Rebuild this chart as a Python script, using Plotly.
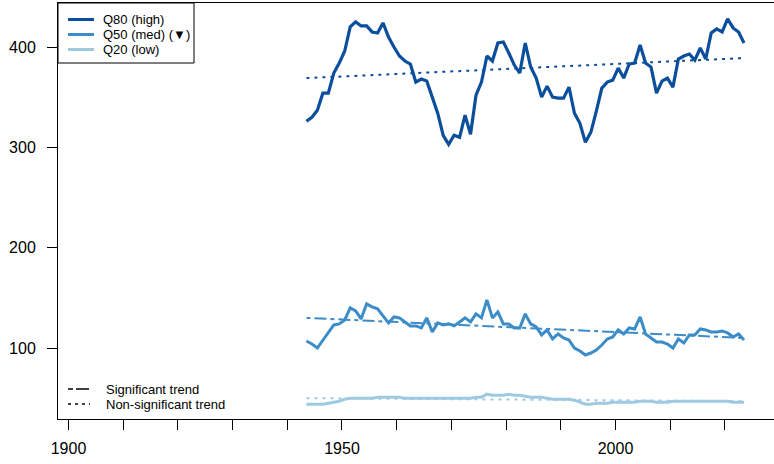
import plotly.graph_objects as go

# ---------------- data ----------------
years = list(range(1943, 2024))  # hydrological years, plotted at mid-year

q80 = [326, 330, 337, 354, 354, 374, 384, 396, 420, 425,
       421, 421, 415, 414, 424, 410, 400, 391, 386, 383,
       365, 368, 366, 349, 334, 312, 303, 312, 310, 332,
       313, 352, 365, 391, 386, 404, 405, 394, 382, 374,
       404, 380, 369, 350, 361, 350, 349, 349, 360, 334,
       324, 305, 315, 336, 359, 365, 367, 379, 369, 383,
       384, 402, 384, 380, 354, 366, 369, 360, 388, 391,
       393, 387, 399, 388, 414, 418, 415, 428, 419, 415,
       404]

q50 = [107, 104, 100, 108, 116, 123, 124, 128, 140, 137,
       129, 144, 141, 139, 132, 125, 131, 130, 126, 122,
       122, 120, 130, 116, 125, 123, 124, 122, 126, 130,
       126, 134, 130, 148, 130, 136, 124, 124, 120, 120,
       134, 124, 121, 113, 118, 109, 114, 110, 108, 100,
       97, 93, 95, 98, 103, 109, 111, 118, 114, 120,
       119, 131, 114, 110, 106, 106, 104, 100, 109, 105,
       113, 113, 119, 118, 116, 116, 117, 115, 111, 114,
       108]

q20 = [44, 44, 44, 44, 45, 46, 47, 49, 50, 50,
       50, 50, 50, 51, 51, 51, 51, 51, 50, 50,
       50, 50, 50, 50, 50, 50, 50, 50, 50, 50,
       50, 51, 51, 54, 53, 53, 53, 54, 53, 53,
       52, 51, 51, 51, 50, 49, 49, 49, 49, 48,
       46, 44, 44, 45, 45, 45, 46, 46, 46, 46,
       46, 47, 47, 47, 46, 46, 46, 47, 47, 47,
       47, 47, 47, 47, 47, 47, 47, 47, 46, 46,
       46]

# trend lines (start value, end value)
q80_trend = [369, 389]
q50_trend = [130, 110]
q20_trend = [50, 47]

series_names = ["Q80 (high)", "Q50 (med) (\u25bc)", "Q20 (low)"]
trend_labels = ["Significant trend", "Non-significant trend"]

x_tickvals = list(range(1900, 2030, 10))
x_ticktext = [str(v) if v % 50 == 0 else "" for v in x_tickvals]
y_tickvals = [100, 200, 300, 400]

# ---------------- style ----------------
C80, C50, C20 = "#0b4f9c", "#3c8cc8", "#9ecae1"
FONT = "Liberation Sans, Arial, sans-serif"
W, H = 774, 464
ML, MR, MT, MB = 58, 0, 3, 45
PW, PH = W - ML - MR, H - MT - MB

xm = [y + 0.5 for y in years]
tx = [xm[0], xm[-1]]

fig = go.Figure()
fig.add_trace(go.Scatter(x=xm, y=q80, mode="lines", line=dict(color=C80, width=3.2)))
fig.add_trace(go.Scatter(x=tx, y=q80_trend, mode="lines",
                         line=dict(color=C80, width=2, dash="3px,5px")))
fig.add_trace(go.Scatter(x=xm, y=q50, mode="lines", line=dict(color=C50, width=3)))
fig.add_trace(go.Scatter(x=tx, y=q50_trend, mode="lines",
                         line=dict(color=C50, width=2, dash="4px,4px,12px,4px")))
fig.add_trace(go.Scatter(x=xm, y=q20, mode="lines", line=dict(color=C20, width=3)))
fig.add_trace(go.Scatter(x=tx, y=q20_trend, mode="lines",
                         line=dict(color=C20, width=2, dash="3px,5px")))


def px(xp):
    return (xp - ML) / PW


def py(yp):
    return (H - MB - yp) / PH


shapes = []
annotations = []
# legend box 1
shapes.append(dict(type="rect", xref="paper", yref="paper",
                   x0=px(58), x1=px(194), y0=py(63), y1=py(3),
                   line=dict(color="black", width=1), fillcolor="white", layer="above"))
for name, col, yy in zip(series_names, [C80, C50, C20], [19.5, 34.5, 49.5]):
    shapes.append(dict(type="line", xref="paper", yref="paper",
                       x0=px(68), x1=px(94), y0=py(yy), y1=py(yy),
                       line=dict(color=col, width=3), layer="above"))
    annotations.append(dict(xref="paper", yref="paper", x=px(101), y=py(yy),
                            text=name, showarrow=False, xanchor="left", yanchor="middle",
                            font=dict(family=FONT, size=13, color="black")))
# legend 2 (trend types)
for lab, dash, yy in zip(trend_labels, ["5px,3px,13px,3px", "3px,4px"], [389, 404]):
    shapes.append(dict(type="line", xref="paper", yref="paper",
                       x0=px(68), x1=px(90), y0=py(yy), y1=py(yy),
                       line=dict(color="black", width=1.5, dash=dash), layer="above"))
    annotations.append(dict(xref="paper", yref="paper", x=px(104), y=py(yy),
                            text=lab, showarrow=False, xanchor="left", yanchor="middle",
                            font=dict(family=FONT, size=13, color="black")))

fig.update_layout(
    width=W, height=H,
    margin=dict(l=ML, r=MR, t=MT, b=MB, pad=0, autoexpand=False),
    paper_bgcolor="white", plot_bgcolor="white",
    showlegend=False, hovermode=False,
    shapes=shapes, annotations=annotations,
    font=dict(family=FONT, size=16, color="black"),
)
fig.update_xaxes(range=[1898.08, 2028.98], tickvals=x_tickvals, ticktext=x_ticktext,
                 ticks="outside", ticklen=10, tickwidth=1, tickcolor="black",
                 showline=True, linecolor="black", linewidth=1, mirror=True,
                 showgrid=False, zeroline=False, ticklabelstandoff=5, automargin=False,
                 tickfont=dict(family=FONT, size=16, color="black"))
fig.update_yaxes(range=[29.24, 443.85], tickvals=y_tickvals,
                 ticks="outside", ticklen=10, tickwidth=1, tickcolor="black",
                 showline=True, linecolor="black", linewidth=1, mirror=False,
                 showgrid=False, zeroline=False, ticklabelstandoff=8, automargin=False,
                 tickfont=dict(family=FONT, size=16, color="black"))

fig.write_html("out.html", config={"displayModeBar": False},
               post_script="document.body.style.margin='0';document.body.style.padding='0';")
